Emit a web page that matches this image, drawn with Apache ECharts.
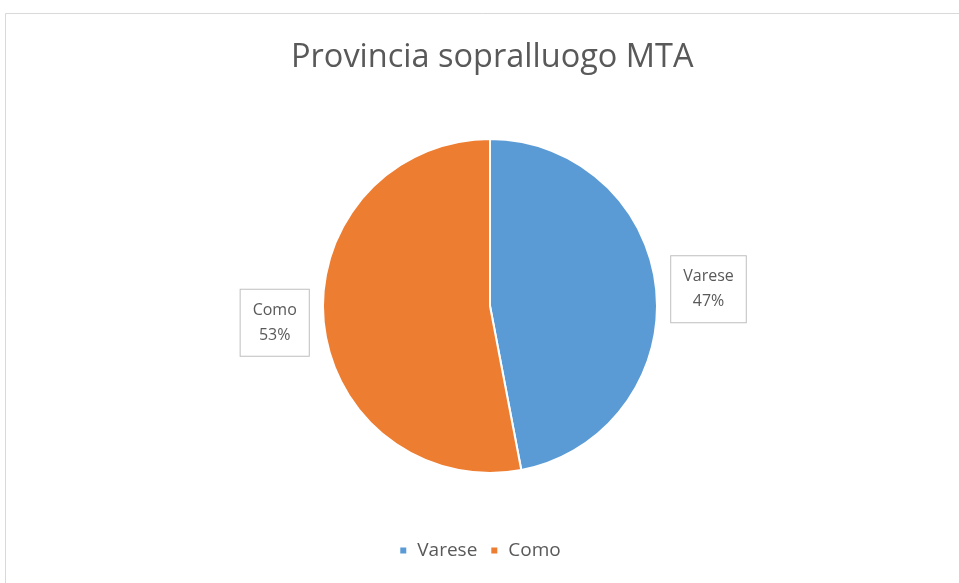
<!DOCTYPE html>
<html>
<head>
<meta charset="utf-8">
<script src="https://cdn.jsdelivr.net/npm/echarts@6/dist/echarts.min.js"></script>
<style>
html,body{margin:0;padding:0;background:#fff;}
#main{width:959px;height:583px;}
</style>
</head>
<body>
<div id="main"></div>
<script>
// dati del grafico
var categories = ['Varese', 'Como'];
var values = [47, 53];
var colors = ['#5B9BD5', '#ED7D31'];

var seriesData = [];
for (var i = 0; i < categories.length; i++) {
	seriesData.push({ name: categories[i], value: values[i], itemStyle: { color: colors[i] } });
}

var myChart = echarts.init(document.getElementById('main'));
var option = {
	backgroundColor: '#ffffff',
	animation: false,
	title: {
		text: 'Provincia sopralluogo MTA',
		left: 286,
		top: 36,
		textStyle: { fontFamily: 'Open Sans', fontSize: 32.5, fontWeight: 'normal', color: '#595959' }
	},
	legend: {
		data: categories,
		bottom: 18,
		left: 'center',
		icon: 'rect',
		itemWidth: 8,
		itemHeight: 8,
		itemGap: 12,
		textStyle: { fontFamily: 'Open Sans', fontSize: 19, color: '#595959', padding: [0, 0, 0, 5] }
	},
	graphic: [{
		type: 'rect',
		shape: { x: 5.5, y: 13.5, width: 1000, height: 1000 },
		style: { fill: 'none', stroke: '#d9d9d9', lineWidth: 1 },
		silent: true
	}],
	series: [{
		type: 'pie',
		center: [490, 306],
		radius: 167,
		startAngle: 90,
		clockwise: true,
		itemStyle: { borderColor: '#ffffff', borderWidth: 2 },
		label: {
			show: true,
			position: 'outside',
			formatter: '{t|{b}}\n{t|{c}%}',
			backgroundColor: '#ffffff',
			borderColor: '#bfbfbf',
			borderWidth: 1,
			padding: [8, 12, 8, 12],
			rich: {
				t: { fontFamily: 'Open Sans', fontSize: 16, lineHeight: 25, color: '#595959', align: 'center' }
			}
		},
		labelLine: { show: false, length: 10, length2: 0 },
		data: seriesData
	}]
};
myChart.setOption(option);
</script>
</body>
</html>
